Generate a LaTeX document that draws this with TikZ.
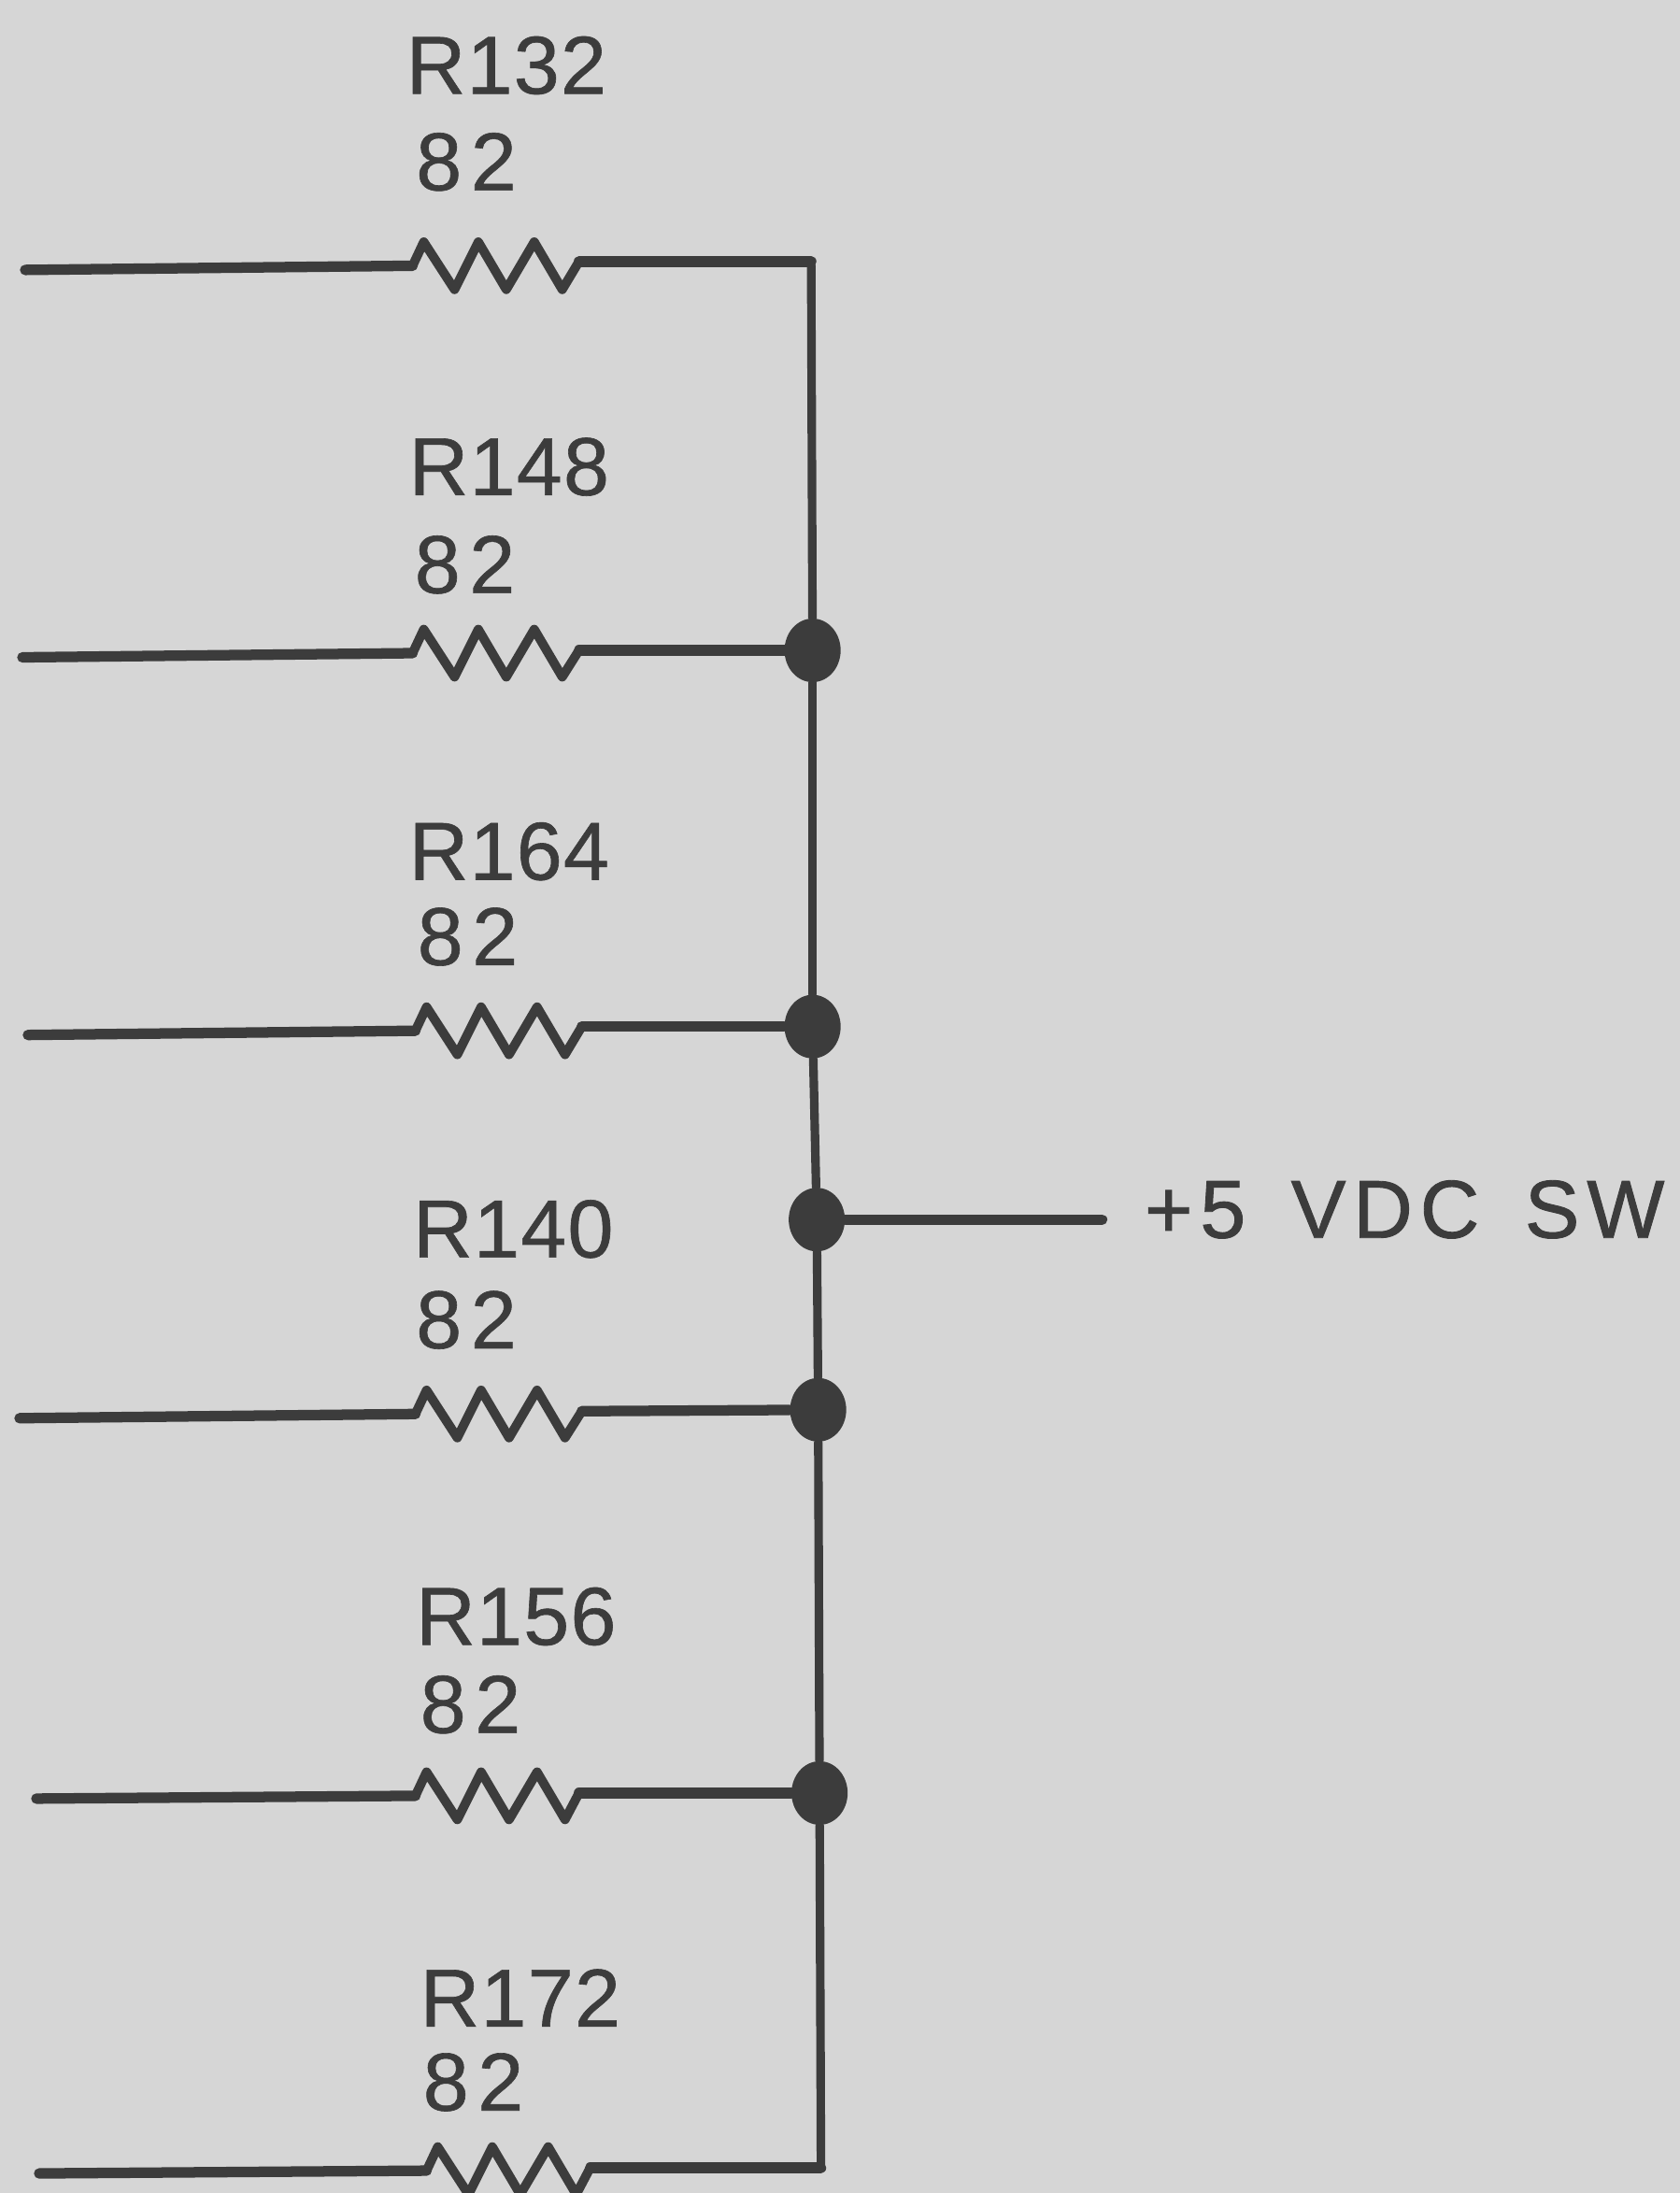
\documentclass[tikz,border=0pt]{standalone}
\usepackage{fontspec}
\usepackage{tikz}
\usetikzlibrary{shapes.geometric}
\setmainfont{Liberation Sans}
\newfontfamily\reffont[LetterSpace=1.5,FakeBold=0.7]{Liberation Sans}
\newfontfamily\valfont[LetterSpace=11,FakeBold=0.7]{Liberation Sans}
\newfontfamily\railfont[LetterSpace=9,WordSpace=1.5,FakeBold=1]{Liberation Sans}
\definecolor{paper}{HTML}{D6D6D6}
\definecolor{ink}{HTML}{3C3C3C}

\begin{document}
\begin{tikzpicture}[x=0.01496cm,y=-0.01496cm]
	\tikzstyle{wire}=[draw=ink, line width=3.2pt, line cap=round, line join=round]
	\tikzstyle{rail}=[draw=ink, line width=2.6pt, line cap=round, line join=round]
	\tikzstyle{zigzag}=[draw=ink, line width=2.8pt, line cap=round, line join=round, to path={-- ++(8,-17) -- ++(22,34) -- ++(17,-34) -- ++(20,34) -- ++(20,-34) -- ++(20,34) -- (\tikztotarget)}]
	\tikzstyle{joint}=[ellipse, fill=ink, inner sep=0pt, minimum width=0.6cm, minimum height=0.68cm]
	\tikzstyle{ref}=[anchor=base west, inner sep=0pt, text=ink, font=\reffont\fontsize{25}{30}\selectfont]
	\tikzstyle{val}=[anchor=base west, inner sep=0pt, text=ink, font=\valfont\fontsize{25}{30}\selectfont]
	\tikzstyle{supply}=[anchor=base west, inner sep=0pt, text=ink, font=\railfont\fontsize{25}{30}\selectfont]
	\fill[paper] (0,0) rectangle (1201,1568);
	\useasboundingbox (0,0) rectangle (1201,1568);
	\node[joint] (j148) at (581,465) {};
	\node[joint] (j164) at (581,734) {};
	\node[joint] (jsrc) at (584,872) {};
	\node[joint] (j140) at (585,1008) {};
	\node[joint] (j156) at (586,1282) {};
	\coordinate (ctop) at (580,187);
	\coordinate (cbot) at (587,1550);
	\coordinate (in132) at (18,193);
	\coordinate (ra132) at (295,190);
	\coordinate (rb132) at (414,187);
	\coordinate (in148) at (16,470);
	\coordinate (ra148) at (295,467);
	\coordinate (rb148) at (414,465);
	\coordinate (in164) at (20,740);
	\coordinate (ra164) at (297,737);
	\coordinate (rb164) at (416,734);
	\coordinate (in140) at (14,1014);
	\coordinate (ra140) at (297,1011);
	\coordinate (rb140) at (416,1009);
	\coordinate (in156) at (26,1286);
	\coordinate (ra156) at (297,1284);
	\coordinate (rb156) at (414,1282);
	\coordinate (in172) at (28,1554);
	\coordinate (ra172) at (305,1552);
	\coordinate (rb172) at (422,1550);
	\coordinate (vdc) at (788,872);
	\node[ref] (n132) at (290,67) {R132};
	\node[val] (v132) at (297,136) {82};
	\node[ref] (n148) at (292,354) {R148};
	\node[val] (v148) at (296,424) {82};
	\node[ref] (n164) at (292,629) {R164};
	\node[val] (v164) at (298,690) {82};
	\node[ref] (n140) at (295,899) {R140};
	\node[val] (v140) at (297,964) {82};
	\node[ref] (n156) at (297,1176) {R156};
	\node[val] (v156) at (300,1239) {82};
	\node[ref] (n172) at (300,1449) {R172};
	\node[val] (v172) at (302,1509) {82};
	\node[supply] (lvdc) at (818,885) {+5 VDC SW};
	\path (in132) edge [wire] (ra132)
	(ra132) edge [zigzag] (rb132)
	(rb132) edge [wire] (ctop)
	(in148) edge [wire] (ra148)
	(ra148) edge [zigzag] (rb148)
	(rb148) edge [wire] (j148)
	(in164) edge [wire] (ra164)
	(ra164) edge [zigzag] (rb164)
	(rb164) edge [wire] (j164)
	(in140) edge [wire] (ra140)
	(ra140) edge [zigzag] (rb140)
	(rb140) edge [wire] (j140)
	(in156) edge [wire] (ra156)
	(ra156) edge [zigzag] (rb156)
	(rb156) edge [wire] (j156)
	(in172) edge [wire] (ra172)
	(ra172) edge [zigzag] (rb172)
	(rb172) edge [wire] (cbot)
	(ctop) edge [rail] (j148)
	(j148) edge [rail] (j164)
	(j164) edge [rail] (jsrc)
	(jsrc) edge [rail] (j140)
	(j140) edge [rail] (j156)
	(j156) edge [rail] (cbot)
	(jsrc) edge [wire] (vdc);
\end{tikzpicture}
\end{document}
